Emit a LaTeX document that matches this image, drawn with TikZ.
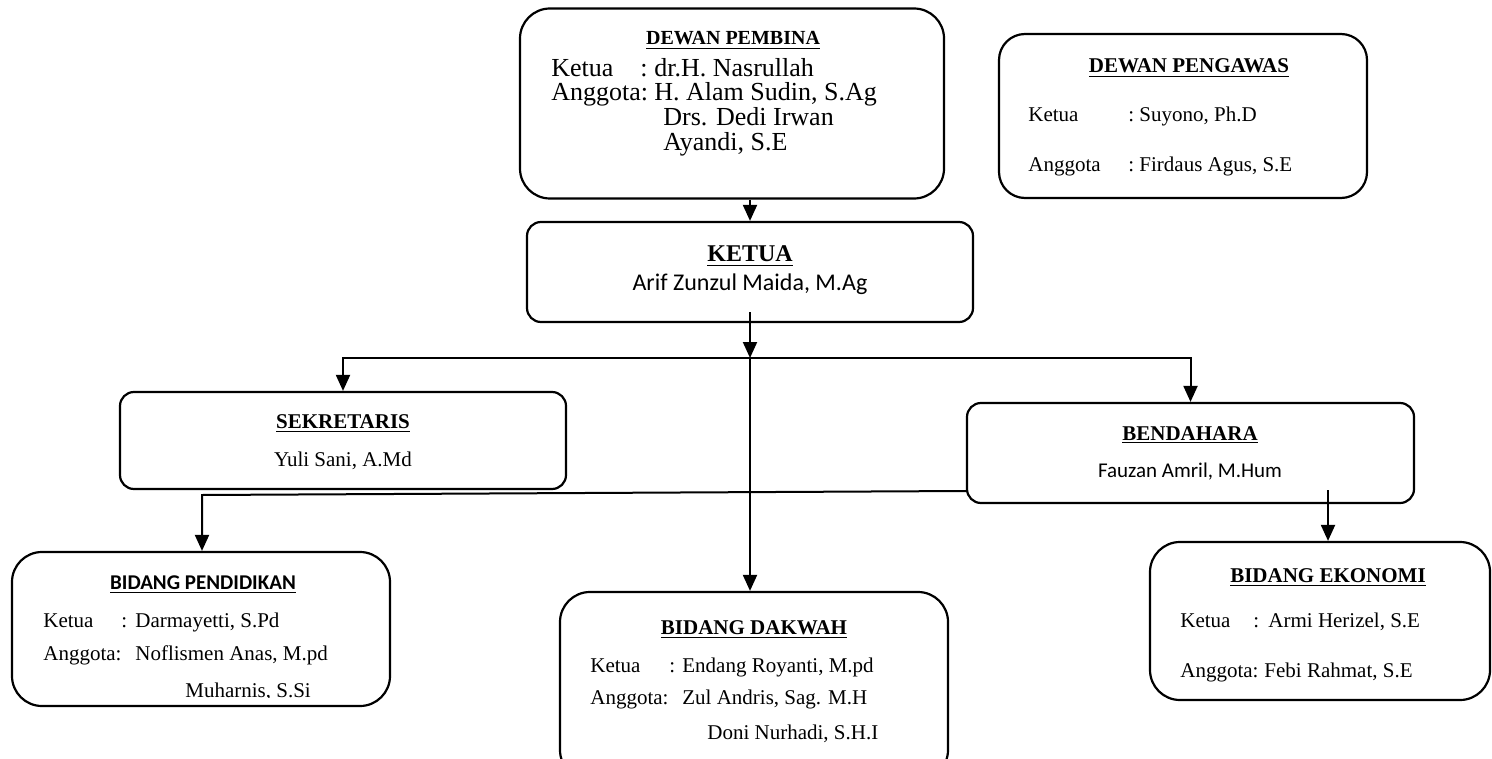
\documentclass[tikz,border=0pt]{standalone}
\usepackage{fontspec}
\setmainfont{Liberation Serif}
\newfontfamily\calfont{Carlito}
\usetikzlibrary{arrows.meta}
\begin{document}
\begin{tikzpicture}[x=0.5pt,y=-0.5pt,
  box/.style={draw,line width=1.1pt,inner sep=0pt},
  arr/.style={line width=1pt,-{Triangle[width=7pt,length=8pt]}},
  txt/.style={inner sep=0pt,anchor=base west},
  ttl/.style={inner sep=0pt,anchor=base},
  fbody/.style={font=\fontsize{10.5}{12}\selectfont},
  fbig/.style={font=\fontsize{13}{15}\selectfont},
  fhead/.style={font=\fontsize{10.5}{12}\selectfont\bfseries},
]
\useasboundingbox (0,0) rectangle (1492,759);

% boxes
\node[box,rounded corners=15pt,minimum width=212pt,minimum height=95pt] (pembina) at (732,103.5) {};
\node[box,rounded corners=13pt,minimum width=184pt,minimum height=82pt] (pengawas) at (1183,116) {};
\node[box,rounded corners=7pt,minimum width=223pt,minimum height=50pt] (ketua) at (750,272) {};
\node[box,rounded corners=7pt,minimum width=223pt,minimum height=48.5pt] (sekretaris) at (343,440.5) {};
\node[box,rounded corners=7pt,minimum width=223.5pt,minimum height=50pt] (bendahara) at (1190.5,453) {};
\node[box,rounded corners=15pt,minimum width=189pt,minimum height=77pt] (pendidikan) at (201,629) {};
\node[box,rounded corners=15pt,minimum width=194pt,minimum height=94pt] (dakwah) at (754,686) {};
\node[box,rounded corners=15pt,minimum width=170pt,minimum height=79pt] (ekonomi) at (1320,621) {};

% connectors
\coordinate (k0) at (750,312);
\coordinate (j) at (750,358);
\coordinate (y491) at (0,491);
\coordinate (b1) at (bendahara.west |- y491);
\coordinate (b2) at (202,495);
\coordinate (e1) at (1328,490);
\draw[arr] (ketua.north |- pembina.south) -- (ketua.north);
\draw[arr] (k0) -- (j);
\draw[arr] (j) -- (j |- dakwah.north);
\draw[arr] (j) -| (sekretaris.north);
\draw[arr] (j) -| (bendahara.north);
\draw[arr] (b1) -- (b2) -- (b2 |- pendidikan.north);
\draw[arr] (e1) -- (e1 |- ekonomi.north);

% DEWAN PEMBINA
\node[ttl,font=\fontsize{10}{12}\selectfont\bfseries] (pbt) at (733,45) {\underline{DEWAN PEMBINA}};
\node[txt,fbig] (pb1) at (551,77) {Ketua};
\node[txt,fbig] (pb1c) at (640,77) {:};
\node[txt,fbig] (pb1n) at (654,77) {dr.H. Nasrullah};
\node[txt,fbig] (pb2) at (551,101) {Anggota:};
\node[txt,fbig] (pb2n) at (654,101) {H. Alam Sudin, S.Ag};
\node[txt,fbig] (pb3) at (663,126) {Drs. Dedi Irwan};
\node[txt,fbig] (pb4) at (663,151) {Ayandi, S.E};

% DEWAN PENGAWAS
\node[ttl,fhead] (pgt) at (1189,73) {\underline{DEWAN PENGAWAS}};
\node[txt,fbody] (pg1) at (1028,122) {Ketua};
\node[txt,fbody] (pg1c) at (1128,122) {:};
\node[txt,fbody] (pg1n) at (1139,122) {Suyono, Ph.D};
\node[txt,fbody] (pg2) at (1028,172) {Anggota};
\node[txt,fbody] (pg2c) at (1128,172) {:};
\node[txt,fbody] (pg2n) at (1139,172) {Firdaus Agus, S.E};

% KETUA
\node[ttl,font=\fontsize{12}{14}\selectfont\bfseries] (kt) at (750,262) {\underline{KETUA}};
\node[ttl,font=\fontsize{12}{14}\selectfont\calfont] (kn) at (750,290) {Arif Zunzul Maida, M.Ag};

% SEKRETARIS
\node[ttl,fhead] (st) at (343,428) {\underline{SEKRETARIS}};
\node[ttl,fbody] (sn) at (343,466) {Yuli Sani, A.Md};

% BENDAHARA
\node[ttl,fhead] (bt) at (1190,440) {\underline{BENDAHARA}};
\node[ttl,font=\fontsize{10.5}{12}\selectfont\calfont] (bn) at (1190,477) {Fauzan Amril, M.Hum};

% BIDANG PENDIDIKAN
\node[ttl,font=\fontsize{10.5}{12}\selectfont\calfont\bfseries] (pdt) at (203,589) {\underline{BIDANG PENDIDIKAN}};
\node[txt,fbody] (pd1) at (43,627) {Ketua};
\node[txt,fbody] (pd1c) at (121,627) {:};
\node[txt,fbody] (pd1n) at (135,627) {Darmayetti, S.Pd};
\node[txt,fbody] (pd2) at (43,660) {Anggota:};
\node[txt,fbody] (pd2n) at (135,660) {Noflismen Anas, M.pd};
\begin{scope}
\clip (0,0) rectangle (400,697);
\node[txt,fbody] (pd3) at (185,697) {Muharnis, S.Si};
\end{scope}

% BIDANG DAKWAH
\node[ttl,fhead] (dkt) at (754,634) {\underline{BIDANG DAKWAH}};
\node[txt,fbody] (dk1) at (590,672) {Ketua};
\node[txt,fbody] (dk1c) at (669,672) {:};
\node[txt,fbody] (dk1n) at (682,672) {Endang Royanti, M.pd};
\node[txt,fbody] (dk2) at (590,704) {Anggota:};
\node[txt,fbody] (dk2n) at (682,704) {Zul Andris, Sag. M.H};
\node[txt,fbody] (dk3) at (707,739) {Doni Nurhadi, S.H.I};

% BIDANG EKONOMI
\node[ttl,fhead] (ekt) at (1328,582) {\underline{BIDANG EKONOMI}};
\node[txt,fbody] (ek1) at (1180,627) {Ketua};
\node[txt,fbody] (ek1c) at (1253,627) {:};
\node[txt,fbody] (ek1n) at (1268,627) {Armi Herizel, S.E};
\node[txt,fbody] (ek2) at (1180,677) {Anggota:};
\node[txt,fbody] (ek2n) at (1264,677) {Febi Rahmat, S.E};
\end{tikzpicture}
\end{document}
